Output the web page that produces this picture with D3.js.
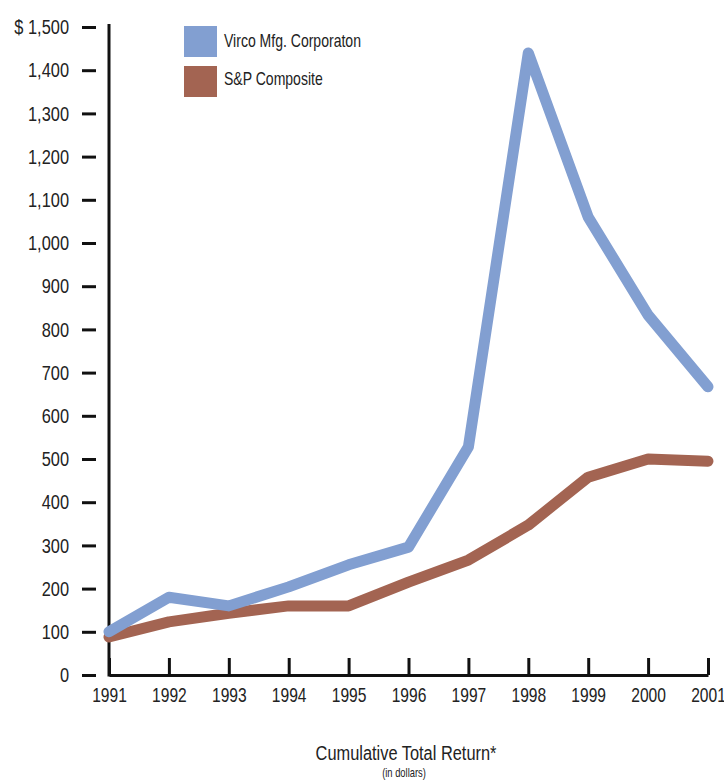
<!DOCTYPE html>
<html>
<head>
<meta charset="utf-8">
<script src="https://cdn.jsdelivr.net/npm/d3@7"></script>
<style>
  body { margin: 0; background: #fff; }
  text { font-family: "Liberation Sans", Arial, sans-serif; fill: #222; }
</style>
</head>
<body>
<script>
// cumulative total return, 1991-2001
const years = [1991, 1992, 1993, 1994, 1995, 1996, 1997, 1998, 1999, 2000, 2001]
const virco = [100, 180, 160, 204, 255, 296, 528, 1440, 1060, 833, 667]
const sp = [88, 123, 143, 160, 160, 215, 266, 347, 458, 500, 495]
const seriesNames = ['Virco Mfg. Corporaton', 'S&P Composite']
const seriesColors = ['#829fd1', '#a36452']
const yTicks = [0, 100, 200, 300, 400, 500, 600, 700, 800, 900, 1000, 1100, 1200, 1300, 1400, 1500]

const W = 724
const H = 782
const NARROW = 0.78 // no condensed face installed, squeeze the glyphs instead
const x = d3.scaleLinear().domain([1991, 2001]).range([109, 708])
const y = d3.scaleLinear().domain([0, 1500]).range([675, 27])

const svg = d3.select('body').append('svg')
  .attr('width', W)
  .attr('height', H)

// move x/y into a transform so the text can be squeezed horizontally
function condense (sel) {
  sel.each(function () {
    const t = d3.select(this)
    const tx = +t.attr('x') || 0
    const ty = +t.attr('y') || 0
    t.attr('x', 0).attr('y', 0)
      .attr('transform', `translate(${tx},${ty}) scale(${NARROW},1)`)
  })
}

// y ticks (detached from the axis line)
const yAxis = svg.append('g')
  .attr('transform', 'translate(96,0)')
  .call(d3.axisLeft(y).tickValues(yTicks).tickSize(14).tickPadding(13)
    .tickFormat((d) => (d === 1500 ? '$ ' : '') + d3.format(',')(d)))
yAxis.select('.domain').remove()
yAxis.selectAll('line').attr('stroke', '#111').attr('stroke-width', 3)
yAxis.selectAll('text').attr('font-size', 21).attr('font-family', null).attr('fill', '#222').call(condense)

// vertical axis line
svg.append('line')
  .attr('x1', x(1991)).attr('x2', x(1991))
  .attr('y1', y(1500) - 3).attr('y2', y(0) + 1.5)
  .attr('stroke', '#111').attr('stroke-width', 3)

// x axis
const xAxis = svg.append('g')
  .attr('transform', `translate(0,${y(0)})`)
  .call(d3.axisBottom(x).tickValues(years).tickFormat(d3.format('d'))
    .tickSizeInner(-17).tickSizeOuter(0).tickPadding(13))
xAxis.select('.domain').attr('stroke', '#111').attr('stroke-width', 3)
xAxis.selectAll('line').attr('stroke', '#111').attr('stroke-width', 3)
xAxis.selectAll('text').attr('font-size', 20).attr('font-family', null).attr('fill', '#222').call(condense)

// lines
const line = d3.line().x((d, i) => x(years[i])).y((d) => y(d))
;[sp, virco].forEach((vals, k) => {
  svg.append('path')
    .datum(vals)
    .attr('d', line)
    .attr('fill', 'none')
    .attr('stroke', k === 0 ? seriesColors[1] : seriesColors[0])
    .attr('stroke-width', 11)
    .attr('stroke-linejoin', 'round')
    .attr('stroke-linecap', 'round')
})

// legend
const legend = svg.append('g').attr('transform', 'translate(184,26)')
seriesNames.forEach((name, i) => {
  legend.append('rect')
    .attr('x', 0).attr('y', i * 40)
    .attr('width', 33).attr('height', 31)
    .attr('fill', seriesColors[i])
  legend.append('text')
    .attr('x', 40).attr('y', i * 38 + 21)
    .attr('font-size', 18)
    .text(name)
    .call(condense)
})

// title
svg.append('text')
  .attr('x', 406).attr('y', 760)
  .attr('text-anchor', 'middle')
  .attr('font-size', 21)
  .text('Cumulative Total Return*')
  .call(condense)
svg.append('text')
  .attr('x', 404).attr('y', 777)
  .attr('text-anchor', 'middle')
  .attr('font-size', 12)
  .text('(in dollars)')
  .call(condense)
</script>
</body>
</html>
